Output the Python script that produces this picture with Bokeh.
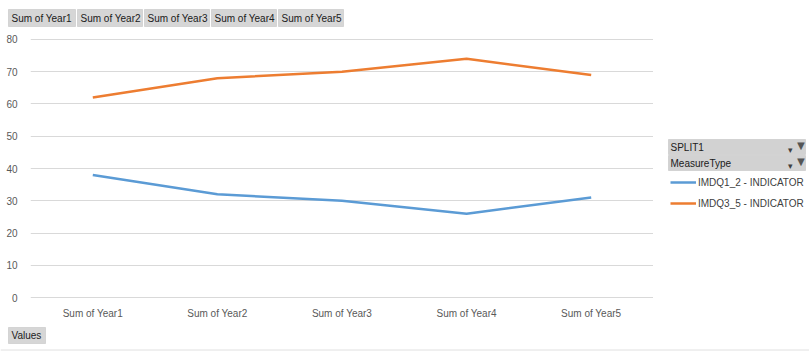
from bokeh.plotting import figure
from bokeh.models import (FactorRange, Range1d, Legend, LegendItem, Label,
                          FixedTicker, ColumnDataSource)
from bokeh.layouts import column, row
from bokeh.embed import file_html
from bokeh.resources import INLINE

categories = ["Sum of Year1", "Sum of Year2", "Sum of Year3", "Sum of Year4", "Sum of Year5"]
series_names = ["IMDQ1_2 - INDICATOR", "IMDQ3_5 - INDICATOR"]
imdq1_2 = [38, 32, 30, 26, 31]
imdq3_5 = [62, 68, 70, 74, 69]
y_ticks = [0, 10, 20, 30, 40, 50, 60, 70, 80]
header_fields = ["SPLIT1", "MeasureType"]
colors = ["#5B9BD5", "#ED7D31"]

W, H = 809, 354
TOP_H = 30
MAIN_W, MAIN_H = 653, 292
BORDER_T, BORDER_B = 8, 24
font = "Liberation Sans"
BTN = "#d6d6d6"
BTN_LINE = "#c4c4c4"


def deco(x0, y0, width, height, bt=0, bb=0):
    """Blank figure; data coordinates equal page pixels (y down)."""
    f = figure(width=width, height=height,
               x_range=Range1d(x0, x0 + width),
               y_range=Range1d(y0 + height - bb, y0 + bt),
               output_backend="svg", toolbar_location=None,
               x_axis_location=None, y_axis_location=None,
               min_border_left=0, min_border_right=0,
               min_border_top=bt, min_border_bottom=bb)
    f.outline_line_color = None
    f.grid.grid_line_color = None
    f.background_fill_color = "white"
    f.border_fill_color = "white"
    return f


def box(f, x0, x1, y0, y1, fill=BTN):
    f.quad(left=x0, right=x1, top=y0, bottom=y1, fill_color=fill,
           line_color=BTN_LINE, line_width=0.6)


def lab(f, text, x, y, size="10px", color="#202020", align="left"):
    f.add_layout(Label(x=x, y=y, text=text, text_font=font, text_font_size=size,
                       text_color=color, text_align=align, text_baseline="middle"))


# ---------- top strip: field buttons ----------
top = deco(0, 0, W, TOP_H)
btn_x = [(8, 75), (77, 142), (144, 209), (211, 276), (278, 343)]
for (x0, x1), c in zip(btn_x, categories):
    box(top, x0, x1, 9, 26)
    lab(top, c, x0 + 3, 17.5)

# ---------- main chart ----------
main = figure(width=MAIN_W, height=MAIN_H,
              x_range=FactorRange(*categories, range_padding=0),
              y_range=Range1d(-0.31, 80.31), output_backend="svg",
              toolbar_location=None, min_border_left=30, min_border_right=0,
              min_border_top=BORDER_T, min_border_bottom=BORDER_B)
main.outline_line_color = None
main.background_fill_color = "white"
main.border_fill_color = "white"
main.yaxis.ticker = FixedTicker(ticks=y_ticks)
main.yaxis.axis_line_color = None
main.yaxis.major_tick_line_color = None
main.yaxis.minor_tick_line_color = None
main.yaxis.major_label_standoff = 7
main.yaxis.major_label_text_font = font
main.yaxis.major_label_text_font_size = "10px"
main.yaxis.major_label_text_color = "#595959"
main.xaxis.axis_line_color = None
main.xaxis.major_tick_line_color = None
main.xaxis.major_label_standoff = 3
main.xaxis.major_label_text_font = font
main.xaxis.major_label_text_font_size = "10px"
main.xaxis.major_label_text_color = "#595959"
main.xgrid.grid_line_color = None
main.ygrid.grid_line_color = "#d9d9d9"
main.ygrid.grid_line_width = 1

src = ColumnDataSource(dict(x=categories, a=imdq1_2, b=imdq3_5))
main.line("x", "a", source=src, line_color=colors[0], line_width=2.5)
main.line("x", "b", source=src, line_color=colors[1], line_width=2.5)

# ---------- legend panel (frame aligned with the main frame) ----------
LEG_W = W - MAIN_W
leg = deco(MAIN_W, TOP_H, LEG_W, MAIN_H, bt=BORDER_T, bb=BORDER_B)
for i, name in enumerate(header_fields):
    y0 = 139 + i * 16
    box(leg, 668, 805, y0, y0 + 15, fill="#d2d2d2")
    lab(leg, name, 670, y0 + 7.5)
    lab(leg, "▾", 787, y0 + 10, size="9px", color="#404040")
    lab(leg, "▼", 794, y0 + 6, size="13px", color="#555555")

# legend proxies: renderers sitting outside the visible range, used only for the key
proxy = ColumnDataSource(dict(x=[0, 1], y=[0, 0]))
r1 = leg.line("x", "y", source=proxy, line_color=colors[0], line_width=2.5)
r2 = leg.line("x", "y", source=proxy, line_color=colors[1], line_width=2.5)
frame_bottom = TOP_H + MAIN_H - BORDER_B
legend = Legend(items=[LegendItem(label=series_names[0], renderers=[r1]),
                       LegendItem(label=series_names[1], renderers=[r2])],
                location=(670 - MAIN_W, frame_bottom - 210), padding=0, margin=0,
                spacing=7, glyph_width=26, glyph_height=14, label_height=14,
                label_text_font=font, label_text_font_size="10px",
                label_text_color="#404040", label_standoff=2,
                border_line_alpha=0, background_fill_alpha=0)
leg.add_layout(legend, "center")

# ---------- bottom strip ----------
bot = deco(0, TOP_H + MAIN_H, W, H - TOP_H - MAIN_H)
box(bot, 8, 45, 327, 343)
lab(bot, "Values", 11, 335)
bot.segment(x0=[0], x1=[W], y0=[349.5], y1=[349.5], line_color="#e0e0e0", line_width=1)

layout = column(top, row(main, leg, spacing=0), bot, spacing=0)
open("out.html", "w").write(file_html(layout, INLINE))
